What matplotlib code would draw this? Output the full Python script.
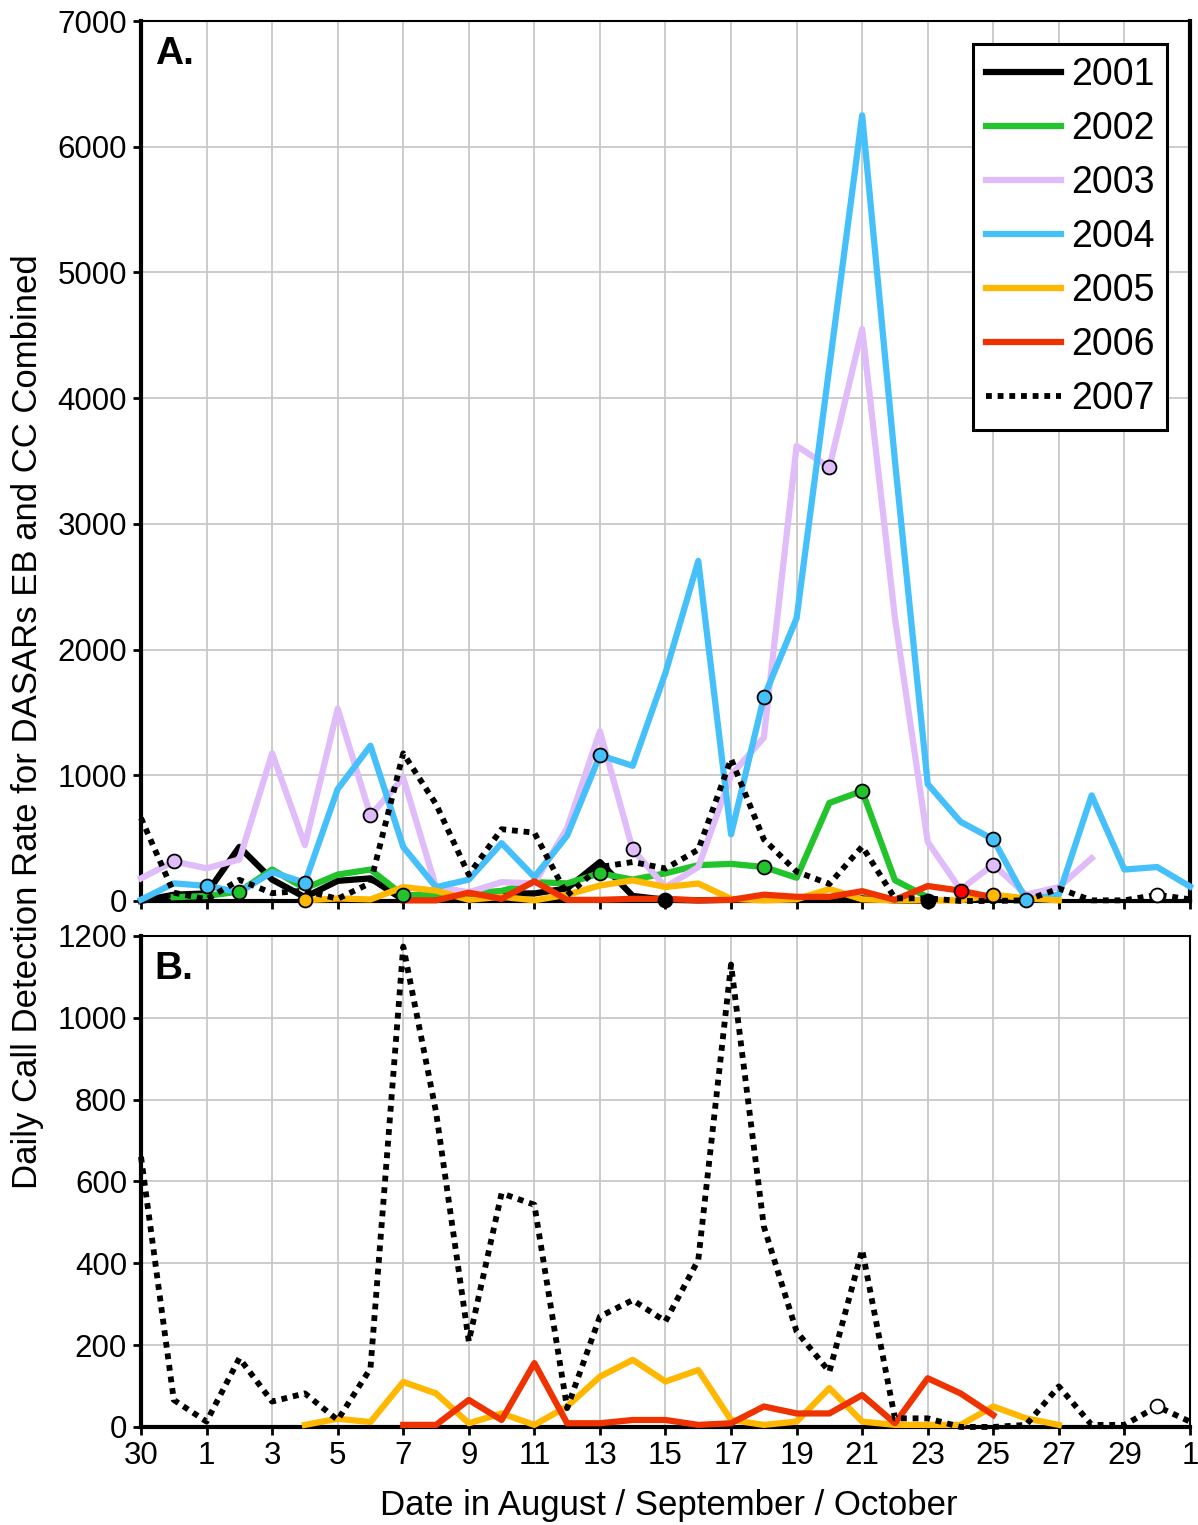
import numpy as np
import matplotlib.pyplot as plt

plt.rcParams['font.family'] = ['Liberation Sans', 'DejaVu Sans']

# day index: 0 = Aug 30, 2 = Sep 1, ..., 31 = Sep 30, 32 = Oct 1
days = np.arange(33)
tick_pos = np.arange(0, 33, 2)
tick_labels = ['30', '1', '3', '5', '7', '9', '11', '13', '15', '17',
               '19', '21', '23', '25', '27', '29', '1']

years = ['2001', '2002', '2003', '2004', '2005', '2006', '2007']

y2001 = [0, 50, 60, 430, 170, 30, 160, 180, 10, 30, 40, 60, 60, 100, 310, 40,
         10, 5, 10, 10, 15, 25, 20, 5, 0,
         None, None, None, None, None, None, None, None]
y2002 = [None, 30, 40, 75, 250, 100, 210, 250, 45, 50, 60, 80, 150, 140, 220, 170,
         220, 285, 295, 270, 185, 780, 875, 165, 30,
         None, None, None, None, None, None, None, None]
y2003 = [180, 315, 260, 330, 1175, 445, 1530, 680, 980, 110, 70, 150, 140, 580, 1350, 410,
         110, 270, 1000, 1300, 3620, 3450, 4550, 2250, 470, 90, 290, 50, 110, 340,
         None, None, None]
y2004 = [10, 140, 120, 70, 230, 145, 890, 1235, 430, 110, 170, 460, 190, 520, 1160, 1075,
         1815, 2705, 530, 1620, 2250, 4250, 6250, 3500, 930, 630, 490, 10, 50, 840,
         250, 270, 115]
y2005 = [None, None, None, None, None, 5, 20, 12, 110, 82, 9, 33, 5, 50, 123, 164,
         111, 139, 17, 5, 13, 95, 13, 5, 5, 5, 50, 21, 5,
         None, None, None, None]
y2006 = [None, None, None, None, None, None, None, None, 5, 5, 66, 17, 156, 9, 9, 17,
         17, 5, 9, 50, 33, 33, 78, 9, 119, 82, 29,
         None, None, None, None, None, None]
y2007 = [660, 66, 13, 168, 62, 82, 17, 143, 1174, 770, 209, 571, 543, 46, 270, 310,
         258, 408, 1130, 490, 233, 135, 433, 21, 21, 0, 0, 5, 99, 5, 5, 50, 13]

# days with circle markers in panel A
marks = {
    '2001': [16, 24],
    '2002': [3, 8, 14, 19, 22],
    '2003': [1, 7, 15, 21, 26],
    '2004': [2, 5, 14, 19, 26, 27],
    '2005': [5, 26],
    '2006': [25],
    '2007': [31],
}

series = dict(zip(years, [y2001, y2002, y2003, y2004, y2005, y2006, y2007]))
colors = {'2001': 'black', '2002': '#22c32b', '2003': '#e0bdfa', '2004': '#45c0fa',
          '2005': '#ffb700', '2006': '#ee3300', '2007': 'black'}
mark_fill = dict(colors)
mark_fill['2006'] = '#ff0000'
mark_fill['2007'] = 'white'

fig = plt.figure(figsize=(11.98, 15.25), dpi=100)
axA = fig.add_axes([0.1177, 0.4092, 0.8756, 0.5770])
axB = fig.add_axes([0.1177, 0.0643, 0.8756, 0.3220])


def draw(ax, yrs):
    handles = []
    for yr in yrs:
        y = np.array(series[yr], dtype=float)
        if yr == '2007':
            ln, = ax.plot(days, y, color='black', lw=4.2, ls=(0, (1, 1)), label=yr,
                          clip_on=False, zorder=3)
        else:
            ln, = ax.plot(days, y, color=colors[yr], lw=4.5, label=yr,
                          clip_on=False, zorder=3)
        handles.append(ln)
    return handles


def draw_marks(ax, yrs):
    for yr in yrs:
        y = np.array(series[yr], dtype=float)
        idx = marks[yr]
        ax.plot(days[idx], y[idx], 'o', ms=10, mfc=mark_fill[yr], mec='black',
                mew=1.3, clip_on=False, zorder=4)


handles = draw(axA, years)
draw_marks(axA, years)

draw(axB, ['2005', '2006', '2007'])
yb = np.array(y2007, dtype=float)
axB.plot(days[[31]], yb[[31]], 'o', ms=10, mfc='white', mec='black', mew=1.3,
         clip_on=False, zorder=4)

for ax, ymax, step in [(axA, 7000, 1000), (axB, 1200, 200)]:
    ax.set_xlim(0, 32)
    ax.set_ylim(0, ymax)
    ax.set_yticks(np.arange(0, ymax + 1, step))
    ax.set_xticks(tick_pos)
    ax.set_xticklabels(tick_labels)
    ax.grid(True, color='#c8c8c8', lw=1.3)
    ax.set_axisbelow(True)
    ax.tick_params(direction='out', length=6, width=2, labelsize=22.5, pad=4)
    ax.spines['left'].set_linewidth(3)
    ax.spines['bottom'].set_linewidth(3)
    ax.spines['top'].set_linewidth(1.5)
    ax.spines['right'].set_linewidth(1.5)

axA.spines['right'].set_linewidth(3)
axA.tick_params(labelbottom=False)

axA.text(0.013, 0.983, 'A.', transform=axA.transAxes, ha='left', va='top',
         fontsize=28, fontweight='bold')
axB.text(0.013, 0.97, 'B.', transform=axB.transAxes, ha='left', va='top',
         fontsize=28, fontweight='bold')

leg = axA.legend(handles=handles, loc='upper right', fontsize=27, frameon=True,
                 fancybox=False, edgecolor='black', framealpha=1,
                 handlelength=2.0, handletextpad=0.25, labelspacing=0.48,
                 borderpad=0.35, borderaxespad=0.6)
leg.get_frame().set_linewidth(2.2)

fig.text(0.023, 0.527, 'Daily Call Detection Rate for DASARs EB and CC Combined',
         rotation=90, ha='center', va='center', fontsize=25)
fig.text(0.558, 0.013, 'Date in August / September / October',
         ha='center', va='center', fontsize=25)

fig.savefig('out.png', dpi=100)
